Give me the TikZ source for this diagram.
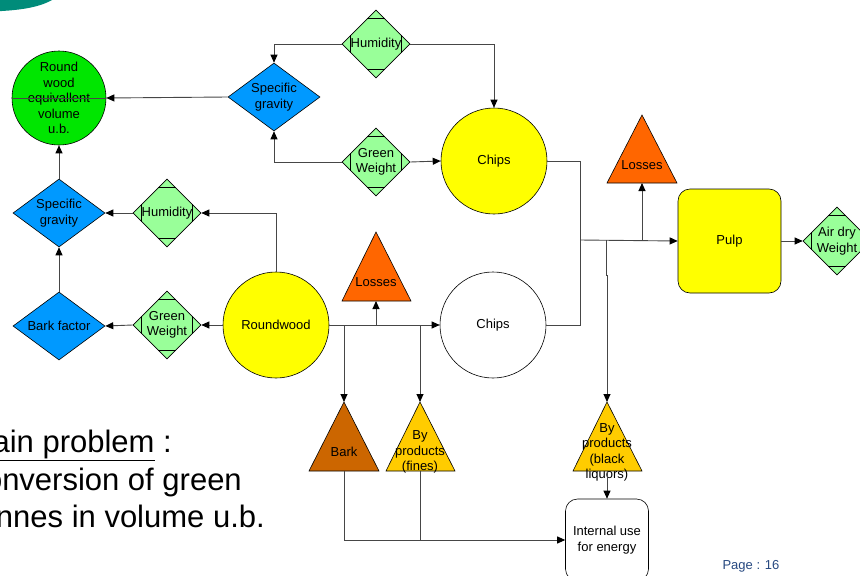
\documentclass[tikz,border=0pt]{standalone}
\usepackage{fontspec}
\setmainfont{Liberation Sans}
\usetikzlibrary{shapes.geometric,arrows.meta,calc}

\definecolor{lgreen}{RGB}{153,255,153}
\definecolor{dblue}{RGB}{0,153,255}
\definecolor{bgreen}{RGB}{0,230,0}
\definecolor{yel}{RGB}{255,255,0}
\definecolor{orng}{RGB}{255,102,0}
\definecolor{brwn}{RGB}{204,102,0}
\definecolor{gold}{RGB}{255,204,0}
\definecolor{tealc}{RGB}{0,140,122}
\definecolor{pageblue}{RGB}{38,72,128}
\definecolor{conncol}{RGB}{70,70,70}

\begin{document}
\begin{tikzpicture}[x=1pt,y=-1pt,
  lbl/.style={font=\fontsize{13}{15.5}\selectfont, align=center, inner sep=0pt},
  shp/.style={draw=black, line width=0.6pt, inner sep=0pt},
  gdiam/.style={shp, diamond, fill=lgreen, minimum width=68pt, minimum height=68pt},
  bdiam/.style={shp, diamond, fill=dblue, minimum width=92pt, minimum height=68pt},
  tx/.style={label={[lbl]center:{#1}}},
  conn/.style={draw=conncol, line width=0.9pt},
  arr/.style={conn, -{Triangle[length=8pt,width=7pt,color=black]}},
  tri/.style={draw=black, line width=0.6pt},
]
\useasboundingbox (0,0) rectangle (860,576);
\clip (0,0) rectangle (860,576);

% corner ornament
\fill[tealc] (0,0) -- (52,0) .. controls (38,8) and (18,10) .. (2,11) -- (0,11) -- cycle;

% measured quantities and results
\node[shp, circle, fill=bgreen, minimum size=94pt,
      tx={Round\\wood\\equivallent\\volume\\u.b.}] (rwe) at (59,98) {};
\node[bdiam, tx={Specific\\gravity}] (sg1) at (274,97) {};
\node[gdiam, tx={Humidity}] (hum1) at (376,44) {};
\node[gdiam, tx={Green\\Weight}] (gw1) at (376,162) {};
\node[shp, circle, fill=yel, minimum size=106pt, tx={Chips}] (chp1) at (494,161) {};

\node[bdiam, tx={Specific\\gravity}] (sg2) at (59,213) {};
\node[gdiam, tx={Humidity}] (hum2) at (167,213) {};
\node[bdiam, tx={Bark factor}] (bf) at (59,326) {};
\node[gdiam, tx={Green\\Weight}] (gw2) at (167,325) {};
\node[shp, circle, fill=yel, minimum size=106pt, tx={Roundwood}] (rw) at (276,325) {};
\node[shp, circle, fill=white, minimum size=106pt, tx={Chips}] (chp2) at (493,325) {};

\node[shp, rectangle, rounded corners=12pt, fill=yel, minimum width=103pt,
      minimum height=104pt, tx={Pulp}] (pulp) at (729.5,241) {};
\node[gdiam, tx={Air dry\\Weight}] (adw) at (837,241) {};

\node[shp, rectangle, rounded corners=12pt, fill=white, minimum width=83pt,
      minimum height=82pt, tx={Internal use\\for energy}] (ieu) at (607,540) {};

% corner ticks of the green decision shapes
\foreach \d in {hum1,gw1,hum2,gw2,adw}{
  \draw[line width=0.6pt] ($(\d.north)!0.25!(\d.west)$) -- ($(\d.north)!0.25!(\d.east)$);
  \draw[line width=0.6pt] ($(\d.south)!0.25!(\d.west)$) -- ($(\d.south)!0.25!(\d.east)$);
  \draw[line width=0.6pt] ($(\d.west)!0.25!(\d.north)$) -- ($(\d.west)!0.25!(\d.south)$);
  \draw[line width=0.6pt] ($(\d.east)!0.25!(\d.north)$) -- ($(\d.east)!0.25!(\d.south)$);
}

% triangles: losses and by-products
\path[tri, fill=orng] (642,115) coordinate (los1-top) -- (607,183) -- (677,183) -- cycle;
\coordinate (los1-bot) at (642,183);
\node[lbl] (los1) at (642,165) {Losses};

\path[tri, fill=orng] (376,232) coordinate (los2-top) -- (342,301) -- (411,301) -- cycle;
\coordinate (los2-bot) at (376,301);
\node[lbl] (los2) at (376,282) {Losses};

\path[tri, fill=brwn] (344,402) coordinate (bark-top) -- (309,471) -- (379,471) -- cycle;
\coordinate (bark-bot) at (344,471);
\node[lbl] (bark) at (344,452) {Bark};

\path[tri, fill=gold] (420,402) coordinate (fin-top) -- (386,471) -- (455,471) -- cycle;
\coordinate (fin-bot) at (420,471);
\node[lbl] (fin) at (420,452) {By\\products\\(fines)};

\path[tri, fill=gold] (607,402) coordinate (blk-top) -- (573,471) -- (642,471) -- cycle;
\coordinate (blk-bot) at (607,471);
\node[lbl] (blk) at (607,452.5) {By\\products\\(black\\liquors)};

% connectors, upper chain
\draw[conn] (rwe.west) -- (rwe.east);
\draw[arr] (sg1.west) -- (rwe.east);
\draw[arr] (hum1.west) -| (sg1.north);
\draw[arr] (hum1.east) -| (chp1.north);
\draw[arr] (gw1.west) -| (sg1.south);
\draw[arr] (gw1.east) -- (chp1.west);

% chips to pulp
\coordinate (jn) at (580,240);
\coordinate (jb) at (606,240);
\draw[conn] (chp1.east) -| (jn);
\draw[conn] (chp2.east) -| (jn);
\draw[arr] (jn) -- (pulp.west);
\draw[arr] (jn -| los1-bot) -- (los1-bot);
\draw[arr] (jb) -- ++(0,35) -- ++(1,0) -- (blk-top);
\draw[arr] (pulp.east) -- (adw.west);

% connectors, lower chain
\draw[arr] (rw.north) |- (hum2.east);
\draw[arr] (hum2.west) -- (sg2.east);
\draw[arr] (sg2.north) -- (rwe.south);
\draw[arr] (bf.north) -- (sg2.south);
\draw[arr] (rw.west) -- (gw2.east);
\draw[arr] (gw2.west) -- (bf.east);
\draw[arr] (rw.east) -- (chp2.west);
\draw[arr] (rw.east -| los2-bot) -- (los2-bot);
\draw[arr] (rw.east -| bark-top) -- (bark-top);
\draw[arr] (rw.east -| fin-top) -- (fin-top);

% by-products to energy
\draw[arr] (bark-bot) |- (ieu.west);
\draw[conn] (fin-bot) -- (fin-bot |- ieu.west);
\draw[arr] (blk-bot) -- (ieu.north);

% statement, running off the left edge of the slide
\begin{scope}[every node/.style={anchor=base east, inner sep=0pt,
    font=\fontsize{31}{37}\selectfont}]
\node (mp1) at (172,452) {\underline{Main problem} :};
\node (mp2) at (242,490) {Conversion of green};
\node (mp3) at (265,527) {tonnes in volume u.b.};
\end{scope}

\node[font=\fontsize{13}{15}\selectfont, text=pageblue, inner sep=0pt] (pg) at (751,566) {Page : 16};
\end{tikzpicture}
\end{document}
